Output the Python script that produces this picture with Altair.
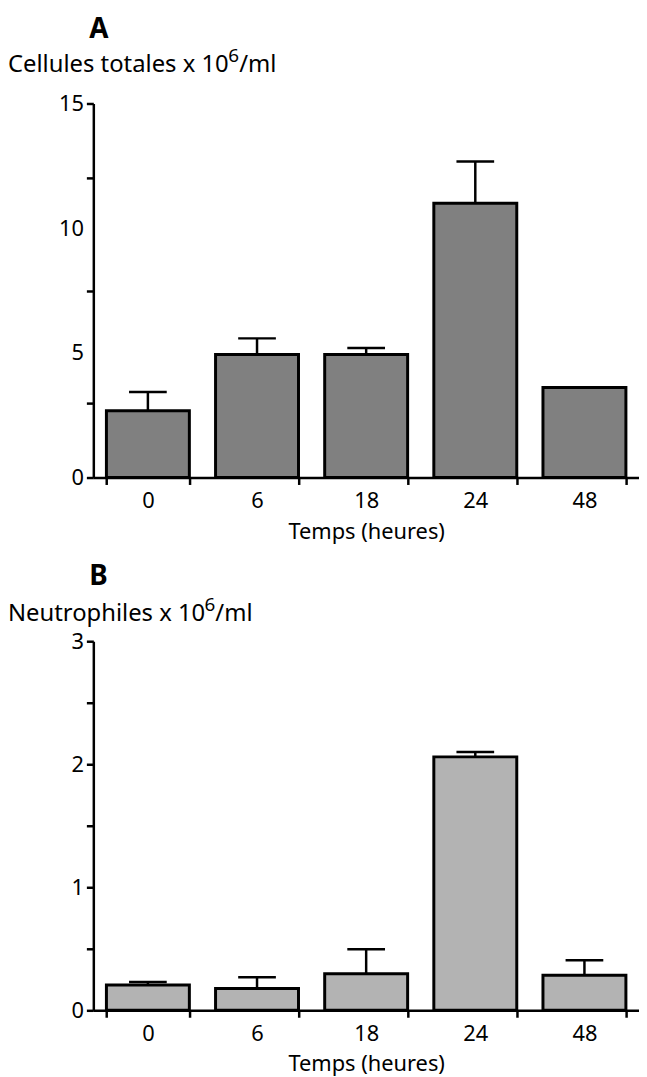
import altair as alt
import pandas as pd

times = ["0", "6", "18", "24", "48"]
cells = [2.68, 4.93, 4.93, 11.0, 3.61]
cells_err = [3.43, 5.58, 5.19, 12.67, None]
neut = [0.205, 0.178, 0.298, 2.06, 0.284]
neut_err = [0.23, 0.268, 0.497, 2.10, 0.407]

cells_ticks = [0, 1.5, 3, 4.5, 5, 6, 7.5, 9, 10, 10.5, 12, 13.5, 15]
cells_labels = [0, 5, 10, 15]
cells_hidden = [5, 10]
neut_ticks = [0, 0.5, 1, 1.5, 2, 2.5, 3]
neut_labels = [0, 1, 2, 3]

# y-title pieces: main text, superscript, unit
cells_title = ["Cellules totales x 10", "6", "/ml"]
neut_title = ["Neutrophiles x 10", "6", "/ml"]

FONT = "Noto Sans"
W = 550
TFS = 24


def panel(vals, errs, fill, ymax, ticks, labels, hidden, tparts, sup_x, letter, h, ty, off):
    df = pd.DataFrame({"t": times, "v": vals, "e": errs})
    lab_test = " || ".join(f"datum.value == {l}" for l in labels)
    hid_test = " || ".join(f"datum.value == {l}" for l in hidden) if hidden else "false"
    x = alt.X(
        "t:N", sort=times, title="Temps (heures)",
        scale=alt.Scale(paddingInner=0.24, paddingOuter=0.12),
        axis=alt.Axis(
            labelAngle=0, tickBand="extent", domainColor="black", domainWidth=2.5,
            tickColor="black", tickWidth=2.5, tickSize=7, labelFontSize=22,
            labelColor="black", labelPadding=6, titleFontSize=22,
            titleFontWeight="normal", titleColor="black", titlePadding=10,
            labelFont=FONT, titleFont=FONT,
        ),
    )
    y = alt.Y(
        "v:Q", scale=alt.Scale(domain=[0, ymax], nice=False, zero=True),
        axis=alt.Axis(
            values=ticks, format="~g", labelExpr=f"({lab_test}) ? datum.label : ''",
            tickOpacity={"condition": {"test": hid_test, "value": 0}, "value": 1},
            labelOverlap=False, domainColor="black", domainWidth=2.5,
            tickColor="black", tickWidth=2.5, tickSize=7, labelFontSize=22,
            labelColor="black", labelPadding=3, labelFont=FONT, title=None,
        ),
    )
    base = alt.Chart(df)
    bars = base.mark_bar(color=fill, stroke="black", strokeWidth=3).encode(x=x, y=y)
    rule = base.transform_filter("isValid(datum.e)").mark_rule(
        color="black", strokeWidth=2.5).encode(x=alt.X("t:N", sort=times), y="v:Q", y2="e:Q")
    cap = base.transform_filter("isValid(datum.e)").mark_tick(
        color="black", thickness=2.5, size=38, opacity=1).encode(
        x=alt.X("t:N", sort=times), y="e:Q")

    tdf = pd.DataFrame({"s": tparts})
    tbase = alt.Chart(tdf)
    t_main = tbase.transform_filter(alt.datum.s == tparts[0]).mark_text(
        font=FONT, fontSize=TFS, align="left", baseline="alphabetic", color="black"
    ).encode(text="s:N", x=alt.value(-86), y=alt.value(ty))
    t_sup = tbase.transform_filter(alt.datum.s == tparts[1]).mark_text(
        font=FONT, fontSize=19, align="left", baseline="alphabetic", color="black"
    ).encode(text="s:N", x=alt.value(sup_x), y=alt.value(ty - 10))
    t_unit = tbase.transform_filter(alt.datum.s == tparts[2]).mark_text(
        font=FONT, fontSize=TFS, align="left", baseline="alphabetic", color="black"
    ).encode(text="s:N", x=alt.value(sup_x + 11), y=alt.value(ty))

    return alt.layer(bars, rule, cap, t_main, t_sup, t_unit).properties(
        width=W, height=h,
        title=alt.TitleParams(letter, anchor="start", frame="group", dx=-4,
                              fontSize=28, fontWeight="bold", font=FONT,
                              color="black", offset=off),
    )


pA = panel(cells, cells_err, "#808080", 15, cells_ticks, cells_labels, cells_hidden,
           cells_title, 136, "A", 377, -32, 3)
pB = panel(neut, neut_err, "#b3b3b3", 3, neut_ticks, neut_labels, [],
           neut_title, 112, "B", 372, -20, 6)

chart = alt.vconcat(pA, pB, spacing=21).configure_view(stroke=None).configure_axis(
    grid=False).properties(padding={"left": 0, "top": 4, "right": 0, "bottom": 0})

chart.save("out.html", embed_options={"renderer": "svg", "actions": False})
